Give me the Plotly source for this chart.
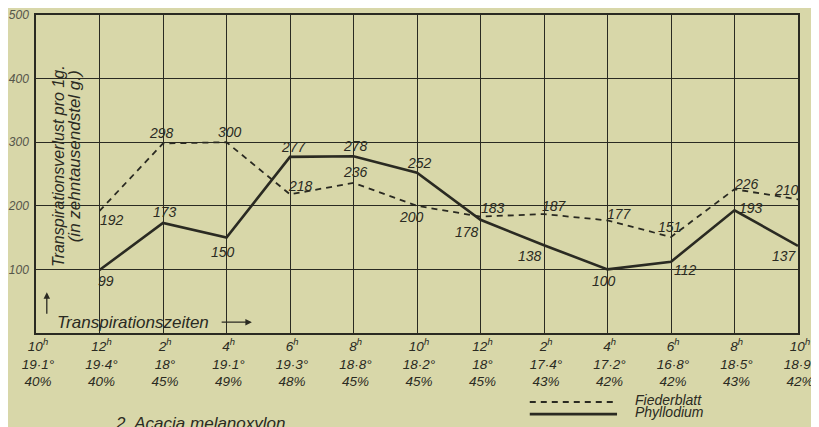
import plotly.graph_objects as go

# ---------------- data ----------------
hours = ["10", "12", "2", "4", "6", "8", "10", "12", "2", "4", "6", "8", "10"]
temps = ["19·1°", "19·4°", "18°", "19·1°", "19·3°", "18·8°", "18·2°", "18°",
         "17·4°", "17·2°", "16·8°", "18·5°", "18·9°"]
humidity = ["40%", "40%", "45%", "49%", "48%", "45%", "45%", "45%",
            "43%", "42%", "42%", "43%", "42%"]

x_idx = list(range(1, 13))
fiederblatt = [192, 298, 300, 218, 236, 200, 183, 187, 177, 151, 226, 210]
phyllodium = [99, 173, 150, 277, 278, 252, 178, 138, 100, 112, 193, 137]

y_ticks = [100, 200, 300, 400, 500]
series_names = ["Fiederblatt", "Phyllodium"]

# label placement (pixel offsets)
fied_shift = [(12, -9), (-2, 10), (3, 10), (10, 8), (2, 11), (-6, -11),
              (12, 9), (10, 8), (12, 6), (-2, 10), (12, 5), (-12, 9)]
phyl_shift = [(6, -11), (2, 11), (-4, -14), (4, 10), (2, 10), (2, 10),
              (-14, -12), (-14, -11), (-4, -12), (14, -8), (16, 2), (-14, -10)]

FONT = "Liberation Sans"
INK = "#2a2a22"
BG = "#d8d7a9"
DASH = "6px,5px"


def f(size, color=INK):
    return dict(family=FONT, size=size, color=color, style="italic")


fig = go.Figure()
fig.add_trace(go.Scatter(x=x_idx, y=fiederblatt, mode="lines", name=series_names[0],
                         line=dict(color=INK, width=1.8, dash=DASH)))
fig.add_trace(go.Scatter(x=x_idx, y=phyllodium, mode="lines", name=series_names[1],
                         line=dict(color=INK, width=2.6)))

ann = []
for xv, yv, (dx, dy) in zip(x_idx, fiederblatt, fied_shift):
    ann.append(dict(x=xv, y=yv, text=str(yv), showarrow=False, xshift=dx, yshift=dy, font=f(14)))
for xv, yv, (dx, dy) in zip(x_idx, phyllodium, phyl_shift):
    ann.append(dict(x=xv, y=yv, text=str(yv), showarrow=False, xshift=dx, yshift=dy, font=f(14)))

# axis title written inside the plot, rotated
ann.append(dict(x=0.35, y=263, text="Transpirationsverlust pro 1g.", textangle=-90,
                showarrow=False, font=f(16)))
ann.append(dict(x=0.6, y=278, text="(in zehntausendstel g.)", textangle=-90,
                showarrow=False, font=f(17)))
ann.append(dict(x=0.17, y=64, ax=0.17, ay=28, axref="x", ayref="y", text="",
                showarrow=True, arrowhead=2, arrowsize=1, arrowwidth=1.3, arrowcolor=INK))
ann.append(dict(x=0.3, y=17, text="Transpirationszeiten", xanchor="left",
                showarrow=False, font=f(17)))
ann.append(dict(x=3.4, y=17, ax=2.9, ay=17, axref="x", ayref="y", text="",
                showarrow=True, arrowhead=2, arrowsize=1, arrowwidth=1.3, arrowcolor=INK))
ann.append(dict(x=0.101, y=-0.247, xref="paper", yref="paper", yanchor="top", xanchor="left",
                text="2. Acacia melanoxylon.", showarrow=False, font=f(17)))

# hand-drawn style legend below the chart
legend_y = [-0.217, -0.255]
legend_dash = [DASH, "solid"]
legend_w = [1.8, 2.6]
shapes = []
for name, ly, dsh, w in zip(series_names, legend_y, legend_dash, legend_w):
    shapes.append(dict(type="line", xref="paper", yref="paper", x0=0.648, x1=0.7625,
                       y0=ly, y1=ly, line=dict(color=INK, width=w, dash=dsh)))
    ann.append(dict(x=0.783, y=ly, xref="paper", yref="paper", xanchor="left",
                    yanchor="middle", yshift=2, text=name, showarrow=False, font=f(14)))

ticktext = [f"{h}<sup>h</sup><br>{t}<br>{p}" for h, t, p in zip(hours, temps, humidity)]

# the page body adds an 8px offset, so the figure is 8px smaller than the window
fig.update_layout(
    width=811, height=419,
    margin=dict(l=28, r=21, t=7, b=94),
    paper_bgcolor=BG, plot_bgcolor=BG,
    annotations=ann, shapes=shapes,
    showlegend=False,
    xaxis=dict(range=[0, 12], tickvals=list(range(13)), ticktext=ticktext,
               showgrid=True, gridcolor=INK, gridwidth=1.3, zeroline=False,
               showline=True, linecolor=INK, linewidth=1.5, mirror=True,
               ticks="", ticklabelshift=2, ticklabeloverflow="allow",
               automargin=False, tickfont=f(13.5)),
    yaxis=dict(range=[0, 500], tickvals=y_ticks, ticktext=[str(v) for v in y_ticks],
               showgrid=True, gridcolor=INK, gridwidth=1.3, zeroline=False,
               showline=True, linecolor=INK, linewidth=1.5, mirror=True,
               ticks="", ticklabelstandoff=3, ticklabeloverflow="allow",
               automargin=False, tickfont=f(12, "#55554a")),
)

fig.write_html("out.html")
